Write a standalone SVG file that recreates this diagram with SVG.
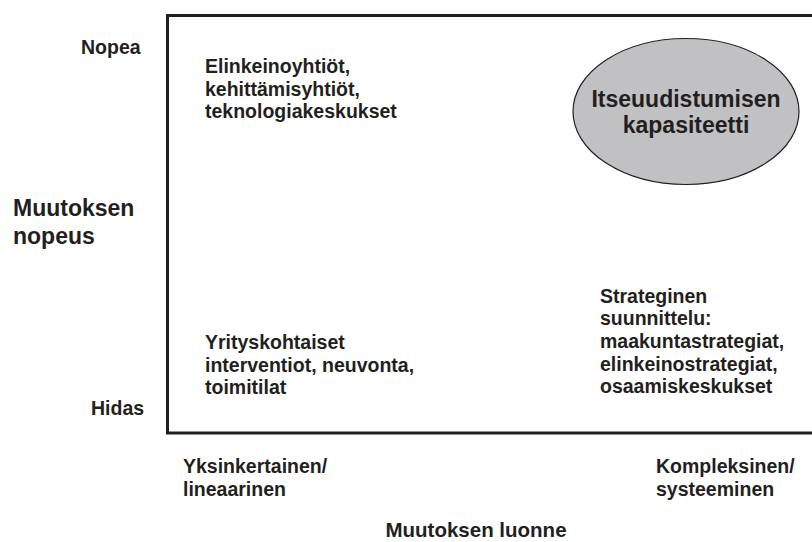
<svg xmlns="http://www.w3.org/2000/svg" width="812" height="542" viewBox="0 0 812 542">
<style>
.t{font-family:"Liberation Sans",Arial,sans-serif;font-weight:bold;fill:#231f20;font-size:19.5px}
.b{font-size:23px}
</style>
<rect width="812" height="542" fill="#fff"/>
<g id="frame">
<path d="M815,15.5 H167.5 V433 H815" fill="none" stroke="#231f20" stroke-width="3"/>
</g>
<g id="axis-y">
<text class="t" x="81" y="54">Nopea</text>
<text class="t" x="91" y="415">Hidas</text>
<text class="t b" x="13" y="216">Muutoksen</text>
<text class="t b" x="13" y="244">nopeus</text>
</g>
<g id="axis-x">
<text class="t" x="183" y="473">Yksinkertainen/</text>
<text class="t" x="183" y="496">lineaarinen</text>
<text class="t" x="656" y="473">Kompleksinen/</text>
<text class="t" x="656" y="496">systeeminen</text>
<text class="t" x="476" y="537" text-anchor="middle" style="font-size:20.5px">Muutoksen luonne</text>
</g>
<g id="node-top-left">
<text class="t" x="205" y="73">Elinkeinoyhtiöt,</text>
<text class="t" x="205" y="95.5">kehittämisyhtiöt,</text>
<text class="t" x="205" y="118">teknologiakeskukset</text>
</g>
<g id="node-ellipse">
<ellipse cx="686" cy="111.5" rx="113" ry="73" fill="#c1c1c3" stroke="#231f20" stroke-width="1.2"/>
<text class="t b" x="686" y="107" text-anchor="middle">Itseuudistumisen</text>
<text class="t b" x="686" y="133" text-anchor="middle">kapasiteetti</text>
</g>
<g id="node-bottom-left">
<text class="t" x="205" y="349">Yrityskohtaiset</text>
<text class="t" x="205" y="371.5">interventiot, neuvonta,</text>
<text class="t" x="205" y="394">toimitilat</text>
</g>
<g id="node-bottom-right">
<text class="t" x="600" y="302.5">Strateginen</text>
<text class="t" x="600" y="325.2">suunnittelu:</text>
<text class="t" x="600" y="347.9">maakuntastrategiat,</text>
<text class="t" x="600" y="370.6">elinkeinostrategiat,</text>
<text class="t" x="600" y="393.3">osaamiskeskukset</text>
</g>
<g id="connectors"></g>
</svg>
